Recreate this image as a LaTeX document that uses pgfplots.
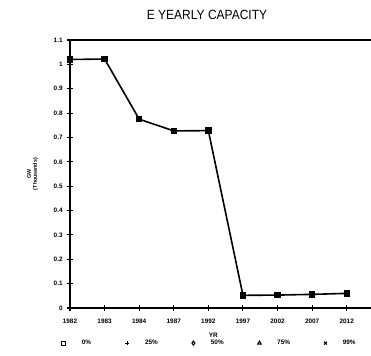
\documentclass[border=0pt]{standalone}
\usepackage{pgfplots}
\pgfplotsset{compat=1.18}
\usepackage{fontspec}
\setmainfont{Liberation Sans}
\begin{document}
\begin{tikzpicture}
\path[use as bounding box] (0pt,0pt) rectangle (278.25pt,266.25pt);
\node[font=\fontsize{10}{12}\selectfont, xscale=0.9] at (155.25pt,255pt) {E YEARLY CAPACITY};
\begin{axis}[
  at={(52.5pt,35.25pt)}, anchor=south west,
  scale only axis, width=233.5pt, height=201pt,
  xmin=0, xmax=9, ymin=0, ymax=1.1,
  axis x line=box, axis y line=left,
  y axis line style={-}, x axis line style={-},
  axis line style={line width=1pt},
  xtick={0,...,8},
  xticklabels={1982,1983,1984,1987,1992,1997,2002,2007,2012},
  ytick={0,0.1,0.2,0.3,0.4,0.5,0.6,0.7,0.8,0.9,1,1.1},
  yticklabels={0,0.1,0.2,0.3,0.4,0.5,0.6,0.7,0.8,0.9,1,1.1},
  tick align=center, major tick length=4pt,
  tick style={line width=0.8pt, black},
  xtick pos=bottom, ytick pos=left,
  ticklabel style={font=\fontsize{4.8}{5}\selectfont\bfseries},
  /pgf/number format/assume math mode=true,
  xticklabel style={yshift=-3pt},
  xlabel={YR}, xlabel style={font=\fontsize{4.8}{5}\selectfont\bfseries, at={(axis description cs:0.46,-0.1)}, anchor=center},
  ylabel={GW\\(Thousands)}, ylabel style={font=\fontsize{4}{4.5}\selectfont\bfseries, align=center, at={(axis description cs:-0.12,0.5)}, anchor=center},
  legend style={draw=none, fill=none, at={(axis description cs:0.45,-0.131)}, anchor=center,
    legend columns=5, font=\fontsize{4.8}{5}\selectfont\bfseries,
    /tikz/every odd column/.append style={column sep=10pt},
    /tikz/every even column/.append style={column sep=23.5pt}},
  legend image code/.code={\draw[#1] (0pt,0pt) -- (0pt,0pt) plot[mark repeat=1] coordinates {(0pt,0pt)};},
  clip=false,
]
\addplot[black, line width=1.2pt, mark=square*, mark size=1.8pt, forget plot] coordinates {
 (0,1.02) (1,1.022) (2,0.775) (3,0.727) (4,0.728) (5,0.052) (6,0.053) (7,0.056) (8,0.06)};
\addlegendimage{only marks, mark=square, black, mark size=1.5pt, line width=0.8pt}
\addlegendentry{0\%}
\addlegendimage{only marks, mark=+, black, mark size=1.5pt, line width=0.8pt}
\addlegendentry{25\%}
\addlegendimage{only marks, mark=diamond, black, mark size=1.5pt, line width=0.8pt}
\addlegendentry{50\%}
\addlegendimage{only marks, mark=triangle, black, mark size=1.5pt, line width=0.8pt}
\addlegendentry{75\%}
\addlegendimage{only marks, mark=x, black, mark size=1.5pt, line width=0.8pt}
\addlegendentry{99\%}
\end{axis}
\end{tikzpicture}
\end{document}
